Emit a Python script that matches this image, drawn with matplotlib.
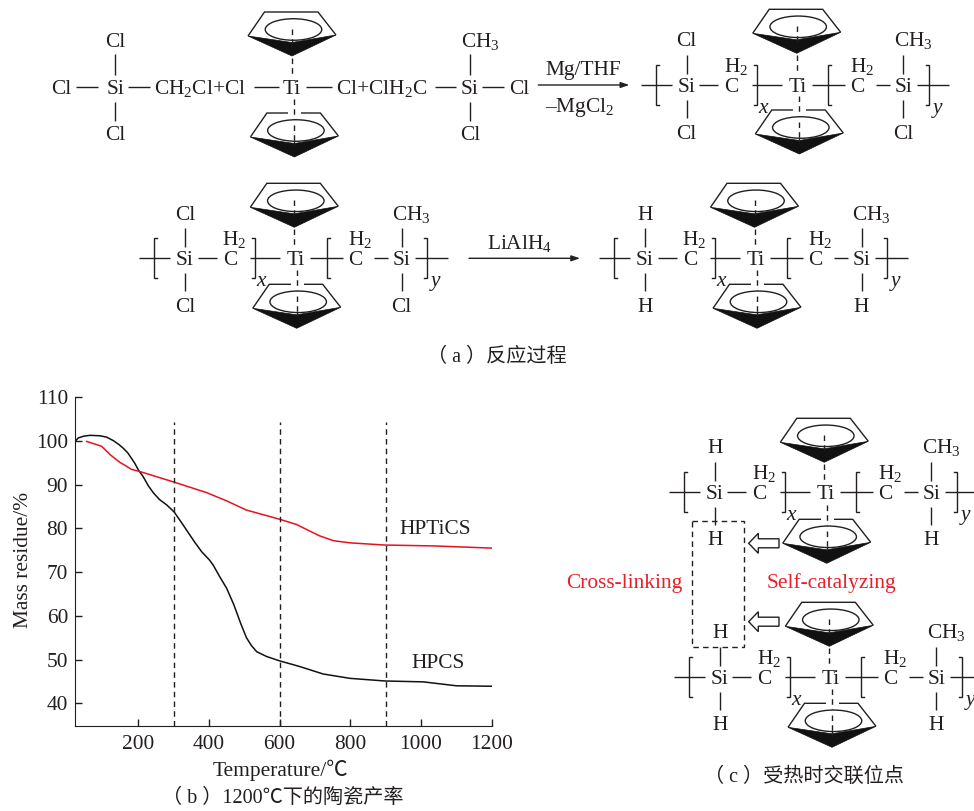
import matplotlib
matplotlib.use('Agg')
import matplotlib.pyplot as plt
from matplotlib.patches import Ellipse, Polygon

plt.rcParams['font.family'] = ['Liberation Serif', 'Noto Sans CJK SC', 'DejaVu Sans']
plt.rcParams['mathtext.fontset'] = 'custom'
plt.rcParams['mathtext.rm'] = 'Liberation Serif'
plt.rcParams['mathtext.it'] = 'Liberation Serif:italic'

FS = 15.4
FS_CAP = 14.5
INK = '#231f20'
RED = '#e8202a'

# curvas da TGA
hpcs_t = [21, 30, 45, 63, 91, 110, 129, 145, 158, 170, 181, 190, 200, 214, 228, 242, 260, 280, 301,
          320, 340, 360, 380, 401, 412, 430, 450, 470, 490, 506, 520, 535, 563, 600, 657, 723, 799,
          898, 1006, 1100, 1200]
hpcs_y = [99.9, 100.7, 101.1, 101.3, 101.2, 100.9, 100.1, 99.2, 98.3, 97.3, 96.0, 94.9, 93.4, 91.8,
          89.8, 88.2, 86.6, 85.4, 83.8, 81.6, 79.2, 76.8, 74.6, 72.8, 71.6, 69.0, 66.3, 62.6, 58.2,
          55.0, 53.2, 51.8, 50.7, 49.7, 48.4, 46.7, 45.7, 45.1, 44.9, 44.0, 43.9]
hptics_t = [54, 96, 120, 148, 165, 181, 205, 301, 393, 450, 506, 600, 648, 680, 713, 752, 799, 898,
            1035, 1200]
hptics_y = [99.9, 98.8, 96.9, 95.1, 94.3, 93.5, 93.0, 90.6, 88.2, 86.3, 84.2, 82.1, 80.9, 79.6, 78.3,
            77.2, 76.7, 76.2, 76.0, 75.5]
marks_t = [300, 600, 900]
xticks = [200, 400, 600, 800, 1000, 1200]
yticks = [40, 50, 60, 70, 80, 90, 100, 110]

# aneis Cp: x do vertice inferior, y da aresta superior
rings_top = [(292, 12), (796.7, 9.3), (294.3, 183.3), (754.5, 183.3), (824.3, 418.3), (829.3, 602.3)]
rings_bot = [(294.4, 113), (799.3, 110), (296.7, 284.3), (757, 284.3), (826.7, 519.3), (832, 703.3)]

W, H = 974, 811
fig = plt.figure(figsize=(W / 100, H / 100), dpi=100)

# grafico (b)
ax = fig.add_axes([75 / W, 1 - 725.7 / H, 416.7 / W, 328.4 / H])
ax.plot(hpcs_t, hpcs_y, color='#111111', lw=1.1, solid_joinstyle='round')
ax.plot(hptics_t, hptics_y, color='#e5121f', lw=1.1, solid_joinstyle='round')
for t in marks_t:
    ax.plot([t, t], [34.87, 104.4], color=INK, lw=1.0, ls=(0, (4, 3)))
ax.set_xlim(20.8, 1200)
ax.set_ylim(34.87, 110)
ax.set_xticks(xticks)
ax.set_yticks(yticks)
ax.tick_params(direction='in', length=5, width=1, colors=INK, labelsize=FS)
ax.tick_params(axis='x', pad=7)
ax.tick_params(axis='y', pad=5)
ax.spines['top'].set_visible(False)
ax.spines['right'].set_visible(False)
for s in ['left', 'bottom']:
    ax.spines[s].set_color(INK)
ax.set_ylabel('Mass residue/%', fontsize=FS, color=INK)
ax.yaxis.set_label_coords(-0.10, 0.505)

# camada em pixels para os esquemas quimicos
ov = fig.add_axes([0, 0, 1, 1], facecolor='none')
ov.set_xlim(0, W)
ov.set_ylim(H, 0)
ov.axis('off')


def line(x0, y0, x1, y1, **kw):
    kw.setdefault('color', INK)
    kw.setdefault('lw', 1.0)
    ov.plot([x0, x1], [y0, y1], solid_capstyle='butt', **kw)


def label(x, y, s, **kw):
    # y e o centro da letra maiuscula
    kw.setdefault('color', INK)
    kw.setdefault('fontsize', FS)
    ov.text(x, y + 7, s, ha='center', va='baseline', **kw)


def bracket(x, y, side):
    ov.plot([x + side * 3, x, x, x + side * 3], [y - 20, y - 20, y + 20, y + 20],
            color=INK, lw=1.0, solid_joinstyle='miter')


def ring(cx, top):
    # contorno, parte escura e elipse de um anel
    ov.add_patch(Polygon([(cx - 44, top + 24), (cx - 27.5, top), (cx + 26, top), (cx + 44, top + 23)],
                         closed=False, fc='white', ec=INK, lw=1.0, zorder=3))
    ov.add_patch(Polygon([(cx - 44, top + 24), (cx, top + 44), (cx + 44, top + 23), (cx, top + 30.5)],
                         fc='#111111', ec='#111111', lw=0.5, zorder=4))
    ov.add_patch(Ellipse((cx + 1.5, top + 17.5), 56.5, 21.5, fc='white', ec=INK, lw=1.0, zorder=5))
    line(cx, top + 28, cx, top + 32, zorder=6)


def ring_dash(x, y0, y1):
    ov.plot([x, x], [y0, y1], color=INK, lw=1.0, ls=(0, (4, 3)), zorder=7)


def polymer(tx, ty, ltop, lbot, rtop, rbot):
    line(tx - 156.7, ty, tx - 126, ty)
    bracket(tx - 141.7, ty, 1)
    label(tx - 111, ty, 'Si')
    line(tx - 98.4, ty, tx - 79.4, ty)
    label(tx - 66, ty, 'C')
    label(tx - 62, ty - 20, 'H$_2$')
    bracket(tx - 41, ty, -1)
    line(tx - 46, ty, tx - 16, ty)
    label(tx - 35, ty + 21, 'x', style='italic')
    label(tx, ty, 'Ti')
    line(tx + 14, ty, tx + 47.3, ty)
    bracket(tx + 30.6, ty, 1)
    label(tx + 59.6, ty, 'C')
    label(tx + 64, ty - 20, 'H$_2$')
    line(tx + 78.3, ty, tx + 92.3, ty)
    label(tx + 105.6, ty, 'Si')
    line(tx + 119, ty, tx + 151.6, ty)
    bracket(tx + 131.3, ty, -1)
    label(tx + 139.6, ty + 21, 'y', style='italic')
    for xs, top, bot in [(tx - 111, ltop, lbot), (tx + 105.6, rtop, rbot)]:
        line(xs, ty - 30, xs, ty - 11)
        line(xs, ty + 15, xs, ty + 33)
        dx = 10 if top == 'CH$_3$' else 0
        label(xs + dx, ty - 45.7, top)
        label(xs, ty + 46.7, bot)


for cx, top in rings_top:
    ring(cx, top)
for cx, top in rings_bot:
    ring(cx, top)
    # abre a aresta superior onde passa a ligacao
    line(cx - 6, top, cx + 7, top, color='white', lw=1.6, zorder=6)

# linhas tracejadas Ti-anel
for (cx, top), (bx, btop) in zip(rings_top, rings_bot):
    ring_dash(cx, top + 17, top + 28)
    ring_dash(cx, top + 46, top + 64)
    ring_dash(bx, btop - 14, btop + 6)
    ring_dash(bx, btop + 12, btop + 31)

# reacao (a), primeira linha
y1 = 87
label(61, y1, 'Cl')
line(76.4, y1, 98, y1)
label(115.4, y1, 'Si')
line(128, y1, 149.8, y1)
label(200, y1, 'CH$_2$Cl+Cl')
line(254, y1, 279, y1)
label(292, y1, 'Ti')
line(305.8, y1, 332.3, y1)
label(381.7, y1, 'Cl+ClH$_2$C')
line(434.6, y1, 456.3, y1)
label(470, y1, 'Si')
line(482, y1, 503.8, y1)
label(519, y1, 'Cl')
for xs, top in [(115.4, 'Cl'), (470, 'CH$_3$')]:
    line(xs, y1 - 33, xs, y1 - 12)
    line(xs, y1 + 15, xs, y1 + 34)
    label(xs + (10 if top != 'Cl' else 0), y1 - 47, top)
    label(xs, y1 + 46, 'Cl')

polymer(797.7, 85, 'Cl', 'Cl', 'CH$_3$', 'Cl')
polymer(296, 258.3, 'Cl', 'Cl', 'CH$_3$', 'Cl')
polymer(756, 258.3, 'H', 'H', 'CH$_3$', 'H')
polymer(825.7, 491.7, 'H', 'H', 'CH$_3$', 'H')
polymer(830.7, 676.7, 'H', 'H', 'CH$_3$', 'H')

# setas de reacao
for x0, x1, y in [(538.3, 629.3, 85), (469, 580, 258.3)]:
    ov.annotate('', xy=(x1, y), xytext=(x0, y),
                arrowprops=dict(arrowstyle='-|>,head_length=0.5,head_width=0.17', color=INK,
                                lw=1.0, shrinkA=0, shrinkB=0))
label(583, 68, 'Mg/THF')
label(580, 105, '\u2013MgCl$_2$')
label(520, 241.7, 'LiAlH$_4$')

# parte (c)
ov.add_patch(plt.Rectangle((692.3, 520.7), 52, 126.6, fc='none', ec=INK, lw=1.0, ls=(0, (4, 3)), zorder=8))
for y in [543.3, 621.7]:
    ov.add_patch(Polygon([(748.7, y), (758.3, y - 10), (758.3, y - 4.5), (779, y - 4.5),
                          (779, y + 4.5), (758.3, y + 4.5), (758.3, y + 10)],
                         fc='white', ec=INK, lw=1.0, zorder=8))
label(624.3, 581, 'Cross-linking', color=RED)
label(831.7, 581, 'Self-catalyzing', color=RED)

# textos do grafico e legendas
label(435, 526.7, 'HPTiCS')
label(437.7, 660.7, 'HPCS')
ov.text(280, 770, 'Temperature/\u2103', ha='center', va='center', color=INK, fontsize=FS)
ov.text(282.5, 798, '\uff08 b \uff091200\u2103下的陶瓷产率', ha='center', va='center', color=INK, fontsize=FS_CAP)
ov.text(497, 357, '\uff08 a \uff09反应过程', ha='center', va='center', color=INK, fontsize=FS_CAP)
ov.text(803.5, 777.5, '\uff08 c \uff09受热时交联位点', ha='center', va='center', color=INK, fontsize=FS_CAP)

fig.savefig('out.png', dpi=100)
